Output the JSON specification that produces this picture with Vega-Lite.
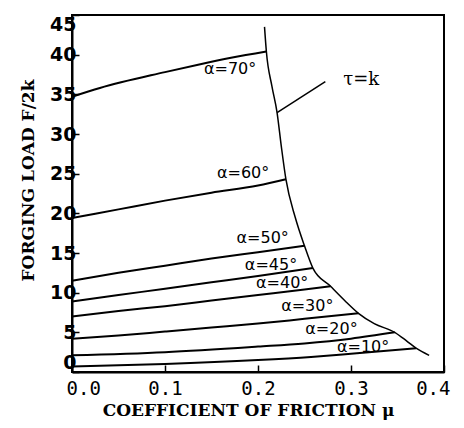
{
  "$schema": "https://vega.github.io/schema/vega-lite/v6.json",
  "width": 372,
  "height": 357,
  "autosize": {"type": "none"},
  "padding": {"left": 72, "top": 15, "right": 20, "bottom": 56},
  "background": "white",
  "config": {
    "view": {"stroke": "black", "strokeWidth": 2},
    "axis": {"grid": false, "domainColor": "black", "tickColor": "black", "labelColor": "black", "titleColor": "black"}
  },
  "datasets": {
    "curves": [
      {"series": "70", "mu": 0.0, "F": 34.7},
      {"series": "70", "mu": 0.03, "F": 35.8},
      {"series": "70", "mu": 0.1, "F": 37.8},
      {"series": "70", "mu": 0.138, "F": 38.8},
      {"series": "70", "mu": 0.171, "F": 39.6},
      {"series": "70", "mu": 0.209, "F": 40.4},
      {"series": "60", "mu": 0.0, "F": 19.4},
      {"series": "60", "mu": 0.05, "F": 20.5},
      {"series": "60", "mu": 0.1, "F": 21.6},
      {"series": "60", "mu": 0.15, "F": 22.6},
      {"series": "60", "mu": 0.2, "F": 23.5},
      {"series": "60", "mu": 0.23, "F": 24.3},
      {"series": "50", "mu": 0.0, "F": 11.5},
      {"series": "50", "mu": 0.05, "F": 12.5},
      {"series": "50", "mu": 0.1, "F": 13.4},
      {"series": "50", "mu": 0.15, "F": 14.3},
      {"series": "50", "mu": 0.2, "F": 15.1},
      {"series": "50", "mu": 0.25, "F": 15.9},
      {"series": "45", "mu": 0.0, "F": 8.9},
      {"series": "45", "mu": 0.05, "F": 9.7},
      {"series": "45", "mu": 0.1, "F": 10.5},
      {"series": "45", "mu": 0.15, "F": 11.3},
      {"series": "45", "mu": 0.2, "F": 12.1},
      {"series": "45", "mu": 0.259, "F": 13.1},
      {"series": "40", "mu": 0.0, "F": 7.0},
      {"series": "40", "mu": 0.05, "F": 7.7},
      {"series": "40", "mu": 0.1, "F": 8.3},
      {"series": "40", "mu": 0.15, "F": 9.0},
      {"series": "40", "mu": 0.2, "F": 9.7},
      {"series": "40", "mu": 0.25, "F": 10.4},
      {"series": "40", "mu": 0.278, "F": 10.8},
      {"series": "30", "mu": 0.0, "F": 4.2},
      {"series": "30", "mu": 0.05, "F": 4.6},
      {"series": "30", "mu": 0.1, "F": 5.1},
      {"series": "30", "mu": 0.15, "F": 5.6},
      {"series": "30", "mu": 0.2, "F": 6.1},
      {"series": "30", "mu": 0.25, "F": 6.7},
      {"series": "30", "mu": 0.308, "F": 7.4},
      {"series": "20", "mu": 0.0, "F": 2.1},
      {"series": "20", "mu": 0.1, "F": 2.5},
      {"series": "20", "mu": 0.2, "F": 3.2},
      {"series": "20", "mu": 0.25, "F": 3.6},
      {"series": "20", "mu": 0.3, "F": 4.2},
      {"series": "20", "mu": 0.347, "F": 5.0},
      {"series": "10", "mu": 0.0, "F": 0.7},
      {"series": "10", "mu": 0.1, "F": 1.0},
      {"series": "10", "mu": 0.2, "F": 1.5},
      {"series": "10", "mu": 0.257, "F": 1.9},
      {"series": "10", "mu": 0.3, "F": 2.3},
      {"series": "10", "mu": 0.37, "F": 3.0}
    ],
    "boundary": [
      {"series": "tau", "mu": 0.207, "F": 43.5},
      {"series": "tau", "mu": 0.209, "F": 40.4},
      {"series": "tau", "mu": 0.215, "F": 36.0},
      {"series": "tau", "mu": 0.2205, "F": 32.7},
      {"series": "tau", "mu": 0.225, "F": 28.5},
      {"series": "tau", "mu": 0.23, "F": 24.3},
      {"series": "tau", "mu": 0.24, "F": 19.5},
      {"series": "tau", "mu": 0.25, "F": 15.9},
      {"series": "tau", "mu": 0.259, "F": 13.1},
      {"series": "tau", "mu": 0.278, "F": 10.8},
      {"series": "tau", "mu": 0.295, "F": 8.8},
      {"series": "tau", "mu": 0.308, "F": 7.4},
      {"series": "tau", "mu": 0.325, "F": 6.1},
      {"series": "tau", "mu": 0.347, "F": 5.0},
      {"series": "tau", "mu": 0.36, "F": 3.9},
      {"series": "tau", "mu": 0.37, "F": 3.0},
      {"series": "tau", "mu": 0.384, "F": 2.1},
      {"series": "leader", "mu": 0.2205, "F": 32.7},
      {"series": "leader", "mu": 0.2724, "F": 36.6}
    ],
    "labels": [
      {"label": "α=70°", "mu": 0.170, "F": 38.2},
      {"label": "α=60°", "mu": 0.184, "F": 25.1},
      {"label": "α=50°", "mu": 0.205, "F": 16.9},
      {"label": "α=45°", "mu": 0.214, "F": 13.5},
      {"label": "α=40°", "mu": 0.226, "F": 11.2},
      {"label": "α=30°", "mu": 0.253, "F": 8.3},
      {"label": "α=20°", "mu": 0.279, "F": 5.4},
      {"label": "α=10°", "mu": 0.313, "F": 3.1}
    ],
    "tau": [
      {"label": "τ=k", "mu": 0.311, "F": 36.8}
    ]
  },
  "encoding": {
    "x": {
      "field": "mu", "type": "quantitative",
      "scale": {"domain": [0, 0.4], "nice": false},
      "axis": {
        "values": [0, 0.1, 0.2, 0.3, 0.4], "format": ".1f",
        "labelFont": "DejaVu Sans Mono", "labelFontSize": 19,
        "labelFlush": true, "labelFlushOffset": 6,
        "tickSize": -7, "tickWidth": 1.5, "labelPadding": 14, "domainWidth": 2,
        "labelOverlap": false,
        "title": "COEFFICIENT OF FRICTION μ",
        "titleFont": "DejaVu Serif", "titleFontWeight": "bold", "titleFontSize": 17,
        "titlePadding": 4, "titleX": 176
      }
    },
    "y": {
      "field": "F", "type": "quantitative",
      "scale": {"domain": [0, 45], "nice": false},
      "axis": {
        "values": [0, 5, 10, 15, 20, 25, 30, 35, 40, 45],
        "tickCount": 10,
        "labelFont": "DejaVu Sans", "labelFontWeight": "bold", "labelFontSize": 19,
        "labelOverlap": false, "labelFlush": true,
        "tickSize": -7, "tickWidth": 1.5, "labelPadding": 3, "domainWidth": 2,
        "title": "FORGING LOAD F/2k",
        "titleFont": "DejaVu Serif", "titleFontWeight": "bold", "titleFontSize": 17,
        "titlePadding": 12, "titleY": 165
      }
    }
  },
  "layer": [
    {
      "data": {"name": "curves"},
      "mark": {"type": "line", "color": "black", "strokeWidth": 2, "interpolate": "monotone"},
      "encoding": {"detail": {"field": "series"}}
    },
    {
      "data": {"name": "boundary"},
      "mark": {"type": "line", "color": "black", "strokeWidth": 1.5, "interpolate": "monotone"},
      "encoding": {"detail": {"field": "series"}}
    },
    {
      "data": {"name": "labels"},
      "mark": {"type": "text", "font": "DejaVu Sans", "fontSize": 16, "color": "black", "baseline": "middle", "align": "center"},
      "encoding": {"text": {"field": "label"}}
    },
    {
      "data": {"name": "tau"},
      "mark": {"type": "text", "font": "DejaVu Serif", "fontSize": 18, "color": "black", "baseline": "middle", "align": "center"},
      "encoding": {"text": {"field": "label"}}
    }
  ]
}
